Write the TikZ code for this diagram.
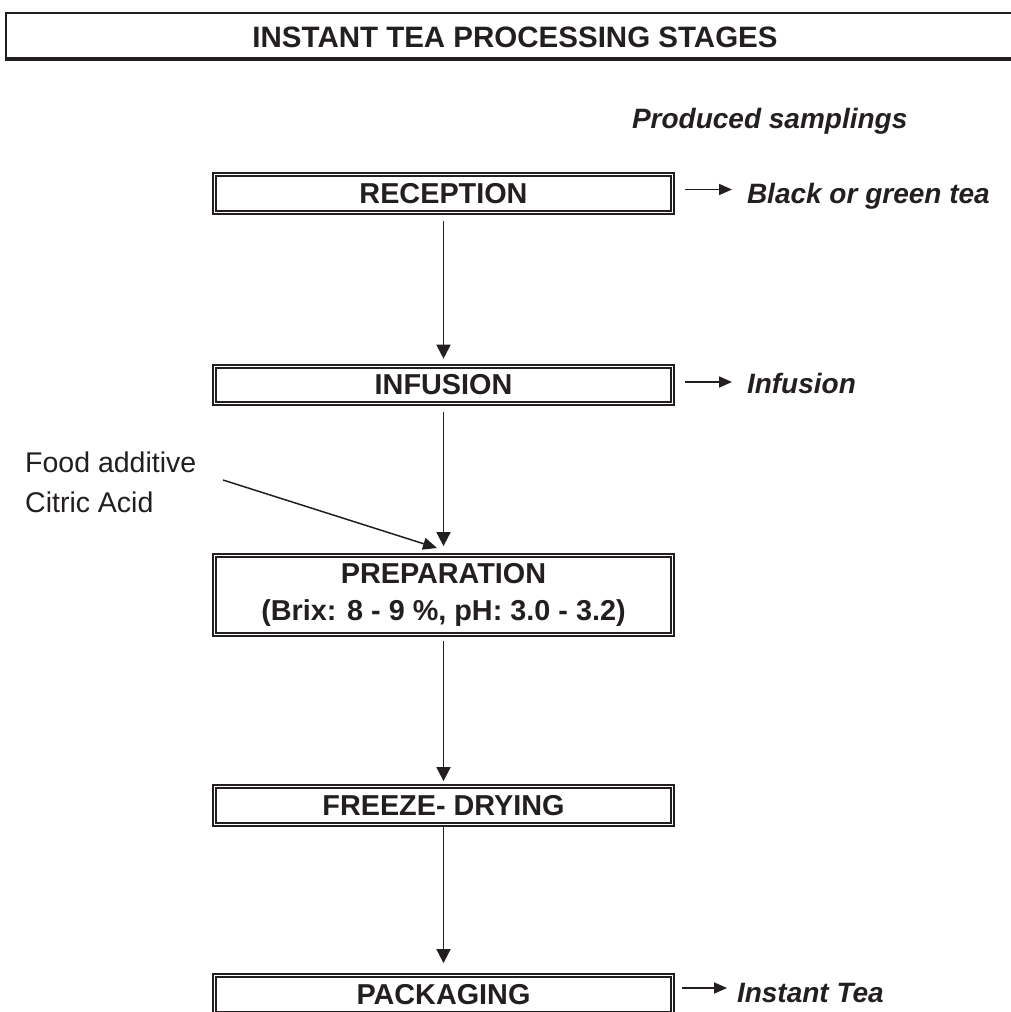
\documentclass[tikz,border=0pt]{standalone}
\usepackage{fontspec}
\setmainfont{Liberation Sans}
\usetikzlibrary{arrows.meta,calc}
\definecolor{ink}{RGB}{35,31,32}
\begin{document}
\begin{tikzpicture}[x=1pt,y=-1pt,
  stage/.style={draw=ink, line width=2pt, double=white, double distance=1.4pt,
    minimum width=457.6pt, inner sep=0pt, outer sep=0pt,
    font=\fontsize{28.8}{37}\selectfont\bfseries, text=ink, align=center},
  flow/.style={draw=ink, line width=1.8pt, -{Triangle[length=14pt,width=14pt]}},
  side/.style={draw=ink, line width=1.7pt, -{Triangle[length=13pt,width=11pt]}},
  samp/.style={font=\fontsize{28}{34}\selectfont\bfseries\itshape, text=ink,
    anchor=base west, inner sep=0pt, outer sep=0pt},
]
\useasboundingbox (0,0) rectangle (1011,1012);

% title bar
\draw[ink, line width=1.6pt] (1020,13) -- (6,13) -- (6,59);
\draw[ink, line width=3.6pt] (5.2,59) -- (1020,59);
\node (title) [font=\fontsize{29.5}{35}\selectfont\bfseries, text=ink, anchor=base, inner sep=0pt]
  at (515,47) {INSTANT TEA PROCESSING STAGES};

\node (prod) [samp] at (632,128) {Produced samplings};

% stages
\node (recep) [stage, minimum height=37.6pt] at (443.5,193.5) {RECEPTION};
\node (infus) [stage, minimum height=36.6pt] at (443.5,385) {INFUSION};
\node (prep)  [stage, minimum height=78.6pt] at (443.5,595)
  {PREPARATION\\(Brix: 8 - 9 \%, pH: 3.0 - 3.2)};
\node (freeze) [stage, minimum height=37.6pt] at (443.5,805.5) {FREEZE- DRYING};
\node (pack)  [stage, minimum height=37.6pt] at (443.5,994.5) {PACKAGING};

% flow arrows
\draw[flow, shorten <=8.6pt, shorten >=8pt] (recep) -- (infus);
\draw[flow, shorten <=8.6pt, shorten >=9.6pt] (infus) -- (prep);
\draw[flow, shorten <=6.6pt, shorten >=5.6pt] (prep) -- (freeze);
\draw[flow, shorten <=2.6pt, shorten >=12.6pt] (freeze) -- (pack);

% additive
\node (food) [font=\fontsize{28.5}{40}\selectfont, text=ink, align=left, anchor=west,
  inner sep=0pt] at (25,482) {Food additive\\Citric Acid};
\coordinate (addsrc) at (223,480);
\coordinate (addtip) at (437,548);
\draw[draw=ink, line width=1.5pt, -{Triangle[length=14pt,width=12pt]}] (addsrc) -- (addtip);

% produced samplings
\node (blk) [samp] at (747,203) {Black or green tea};
\node (inf) [samp] at (747,393) {Infusion};
\node (inst) [samp] at (737,1002) {Instant Tea};

\draw[side] ([xshift=12.6pt,yshift=4pt]recep.east) -- ([xshift=-15pt,yshift=4pt]recep.east -| blk.west);
\draw[side] ([xshift=12.6pt,yshift=3pt]infus.east) -- ([xshift=-15pt,yshift=3pt]infus.east -| inf.west);
\draw[side] ([xshift=9.6pt,yshift=6.5pt]pack.east) -- ([xshift=-10pt,yshift=6.5pt]pack.east -| inst.west);
\end{tikzpicture}
\end{document}
